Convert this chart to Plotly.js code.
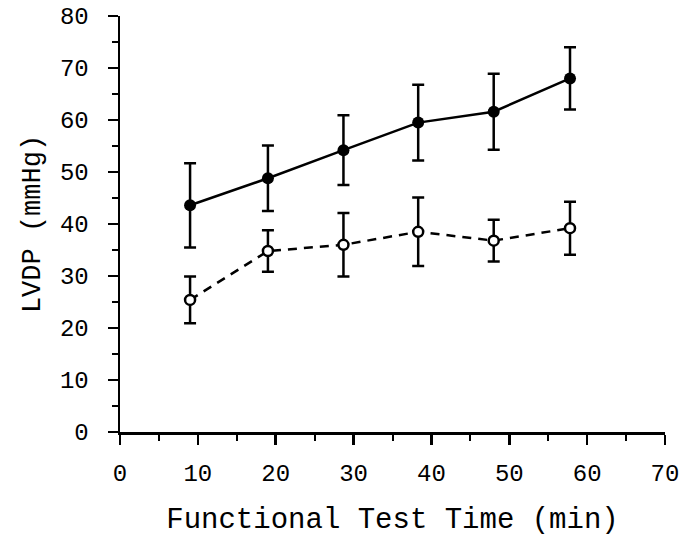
<!DOCTYPE html>
<html>
<head>
<meta charset="utf-8">
<script src="https://cdn.plot.ly/plotly-3.0.1.min.js"></script>
<style>html,body{margin:0;padding:0;background:#fff;}#chart{width:686px;height:537px;}</style>
</head>
<body>
<div id="chart"></div>
<script>
// Functional test time (min)
const timeA = [9, 19, 28.7, 38.3, 48, 57.8];
// Filled circles, solid line
const lvdpA = [43.6, 48.8, 54.2, 59.5, 61.6, 68.0];
const errA  = [8.1, 6.3, 6.7, 7.3, 7.3, 6.0];
// Open circles, dashed line
const timeB = [9, 19, 28.7, 38.3, 48, 57.8];
const lvdpB = [25.4, 34.8, 36.0, 38.5, 36.8, 39.2];
const errB  = [4.5, 4.0, 6.1, 6.6, 4.0, 5.1];
const xTicks = [0, 10, 20, 30, 40, 50, 60, 70];
const yTicks = [0, 10, 20, 30, 40, 50, 60, 70, 80];

const font = 'Liberation Mono, Courier New, monospace';

const traces = [
  {
    x: timeA, y: lvdpA, type: 'scatter', mode: 'lines+markers',
    line: {color: '#000', width: 2.5},
    marker: {symbol: 'circle', size: 12, color: '#000'},
    error_y: {type: 'data', array: errA, visible: true, color: '#000', thickness: 2.5, width: 6}
  },
  {
    x: timeB, y: lvdpB, type: 'scatter', mode: 'lines+markers',
    line: {color: '#000', width: 2.5, dash: '9px,7px'},
    marker: {symbol: 'circle', size: 10, color: '#fff', line: {color: '#000', width: 2.5}},
    error_y: {type: 'data', array: errB, visible: true, color: '#000', thickness: 2.5, width: 6}
  }
];

const layout = {
  width: 686, height: 537,
  margin: {l: 120, r: 21, t: 16, b: 105},
  paper_bgcolor: '#fff', plot_bgcolor: '#fff',
  showlegend: false,
  font: {family: font, color: '#000', size: 24},
  xaxis: {
    range: [0, 70], tickvals: xTicks, ticktext: xTicks.map(String),
    showgrid: false, zeroline: false, showline: true, linecolor: '#000', linewidth: 2.5,
    ticks: 'outside', ticklen: 10, tickwidth: 2.5, tickcolor: '#000',
    ticklabelstandoff: 8,
    minor: {dtick: 5, tick0: 0, ticks: 'outside', ticklen: 6, tickwidth: 2, tickcolor: '#000', showgrid: false},
    tickfont: {family: font, size: 24},
    title: {text: 'Functional Test Time (min)', font: {family: font, size: 29}, standoff: 24}
  },
  yaxis: {
    range: [0, 80], tickvals: yTicks, ticktext: yTicks.map(String),
    showgrid: false, zeroline: false, showline: true, linecolor: '#000', linewidth: 2.5,
    ticks: 'outside', ticklen: 10, tickwidth: 2.5, tickcolor: '#000',
    ticklabelstandoff: 14,
    minor: {dtick: 5, tick0: 0, ticks: 'outside', ticklen: 6, tickwidth: 2, tickcolor: '#000', showgrid: false},
    tickfont: {family: font, size: 24},
    title: {text: 'LVDP (mmHg)', font: {family: font, size: 27}, standoff: 12}
  }
};

Plotly.newPlot('chart', traces, layout, {displayModeBar: false, staticPlot: true});
</script>
</body>
</html>
